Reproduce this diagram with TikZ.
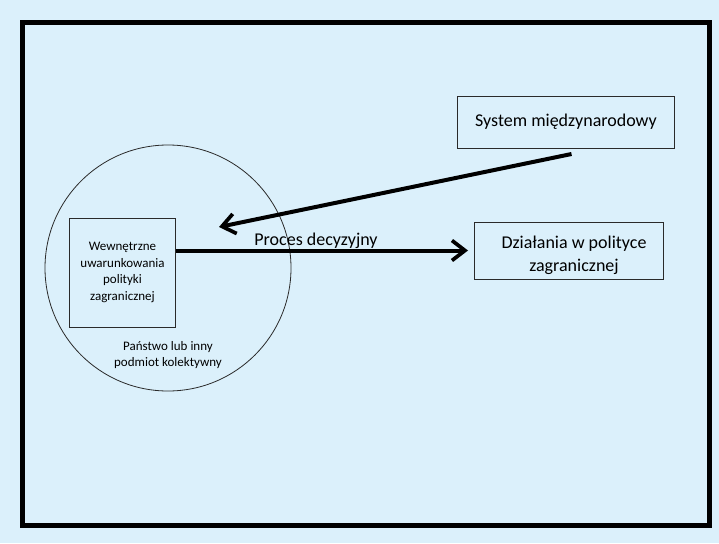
\documentclass[tikz,border=0pt]{standalone}
\usepackage{fontspec}
\setmainfont{Carlito}
\usetikzlibrary{arrows.meta}
\definecolor{bgblue}{HTML}{DBF0FB}
\definecolor{thinline}{HTML}{2A2A2A}
\tikzset{
  thinbox/.style={draw=thinline, line width=0.9pt, inner sep=0pt},
  bigarrow/.style={line width=4pt, -{Straight Barb[length=13pt,width=20pt,line width=3.7pt]}},
  smalltext/.style={font=\fontsize{13}{16.5}\selectfont, align=center},
  largetext/.style={font=\fontsize{18}{23.5}\selectfont, align=center}
}
\begin{document}
\begin{tikzpicture}[x=1pt,y=-1pt]
\fill[bgblue] (0,0) rectangle (719,543);
\useasboundingbox (0,0) rectangle (719,543);
\draw[line width=5pt] (22.5,22.5) rectangle (709,525);
% circle
\node[draw=thinline, line width=0.8pt, circle, minimum size=246pt, inner sep=0pt] (state) at (168,268) {};
% inner box
\node[thinbox, minimum width=106.5pt, minimum height=109pt, smalltext] (inner) at (122.5,272.5) {Wewnętrzne\\uwarunkowania\\polityki\\zagranicznej};
\node[smalltext] (statelbl) at (168,355) {Państwo lub inny\\podmiot kolektywny};
% system box
\node[thinbox, minimum width=217pt, minimum height=52pt, largetext] (system) at (566,122) {System międzynarodowy};
% actions box
\node[thinbox, minimum width=189pt, minimum height=57pt] (actions) at (569,251) {};
\node[largetext] (actionslbl) at (574,255.5) {Działania w polityce\\zagranicznej};
% arrows
\coordinate (sysstart) at (571.5,154);
\coordinate (sysend) at (219,227);
\draw[bigarrow] (sysstart) -- (sysend);
\coordinate (decend) at (468,250.5);
\draw[bigarrow] (inner.east |- decend) -- (decend);
\node[largetext, anchor=base] (proces) at (316,245) {Proces decyzyjny};
\end{tikzpicture}
\end{document}
